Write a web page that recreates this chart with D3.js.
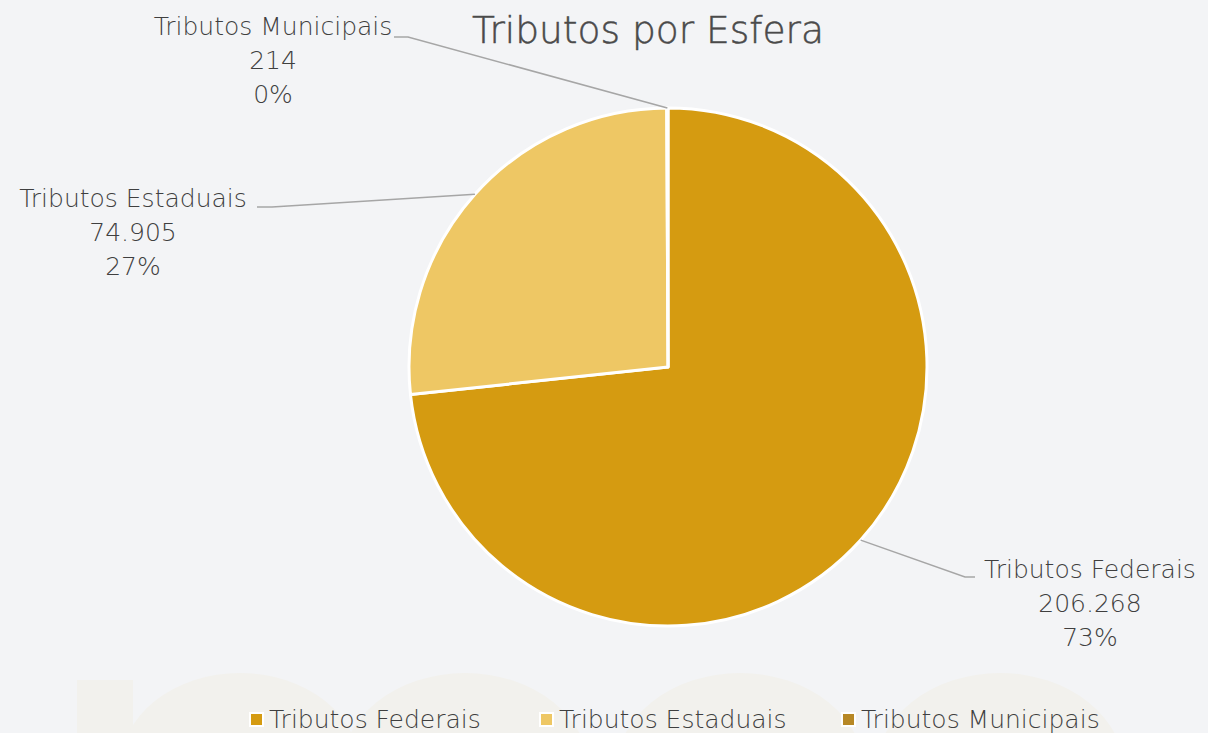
<!DOCTYPE html>
<html><head><meta charset="utf-8">
<script src="https://cdn.jsdelivr.net/npm/d3@7"></script>
<style>
html,body{margin:0;padding:0;background:#F3F4F6;}
svg{display:block;font-family:"DejaVu Sans",sans-serif;font-weight:200;}
</style></head>
<body><svg id="c" width="1208" height="733"></svg>
<script>
const title = "Tributos por Esfera";
const categories = ["Tributos Federais","Tributos Estaduais","Tributos Municipais"];
const values = [206268, 74905, 214];
const valueLabels = ["206.268","74.905","214"];
const colors = ["#D59B11","#EEC764","#B78826"];

const W=1208,H=733, cx=668, cy=367, R=259;
const svg=d3.select("#c");
svg.append("rect").attr("width",W).attr("height",H).attr("fill","#F3F4F6");

// faint watermark
const wm=svg.append("g").attr("fill","#F2F1ED");
wm.append("rect").attr("x",77).attr("y",680).attr("width",56).attr("height",60);
[[240,120,95],[465,125,100],[740,125,100],[1000,125,100]].forEach(([x,rx,ry])=>{
  wm.append("ellipse").attr("cx",x).attr("cy",673+ry).attr("rx",rx).attr("ry",ry);
});

const total=d3.sum(values);
const pie=d3.pie().sort(null).value(d=>d)(values);
const arc=d3.arc().innerRadius(0).outerRadius(R);
const g=svg.append("g").attr("transform",`translate(${cx},${cy})`);
g.selectAll("path").data(pie).join("path")
  .attr("d",arc).attr("fill",(d,i)=>colors[i])
  .attr("stroke","#fff").attr("stroke-width",3).attr("stroke-linejoin","round");

svg.append("text").attr("x",648).attr("y",43).attr("text-anchor","middle")
  .attr("font-size",37.5).attr("fill","#4A4A4A").attr("stroke","#4A4A4A").attr("stroke-width",0.5).text(title);

// label layout: [label center x, first baseline y, elbow x, elbow y, line end x]
const labelPos=[[1090,578,965,577,975],[133,207,272,207,257],[273,35,408,37,394]];
const fmtPct=d=>Math.round(d*100)+"%";
pie.forEach((d,i)=>{
  const a=(d.startAngle+d.endAngle)/2;
  const px=cx+R*Math.sin(a), py=cy-R*Math.cos(a);
  const [lx,ly,ex,ey,tx]=labelPos[i];
  svg.append("polyline").attr("points",`${px},${py} ${ex},${ey} ${tx},${ey}`)
    .attr("fill","none").attr("stroke","#A6A6A6").attr("stroke-width",1.5);
  const t=svg.append("text").attr("text-anchor","middle").attr("font-size",25).attr("fill","#3F3F3F");
  [categories[i],valueLabels[i],fmtPct(values[i]/total)].forEach((s,k)=>{
    t.append("tspan").attr("x",lx).attr("y",ly+k*34).text(s);
  });
});

// legend
const legX=[250,540,842];
const lg=svg.append("g");
categories.forEach((c,i)=>{
  lg.append("rect").attr("x",legX[i]).attr("y",713).attr("width",13).attr("height",13)
    .attr("fill",colors[i]).attr("stroke","#fff").attr("stroke-width",2);
  lg.append("text").attr("x",legX[i]+19).attr("y",728).attr("font-size",25).attr("fill","#3F3F3F").text(c);
});
</script></body></html>
